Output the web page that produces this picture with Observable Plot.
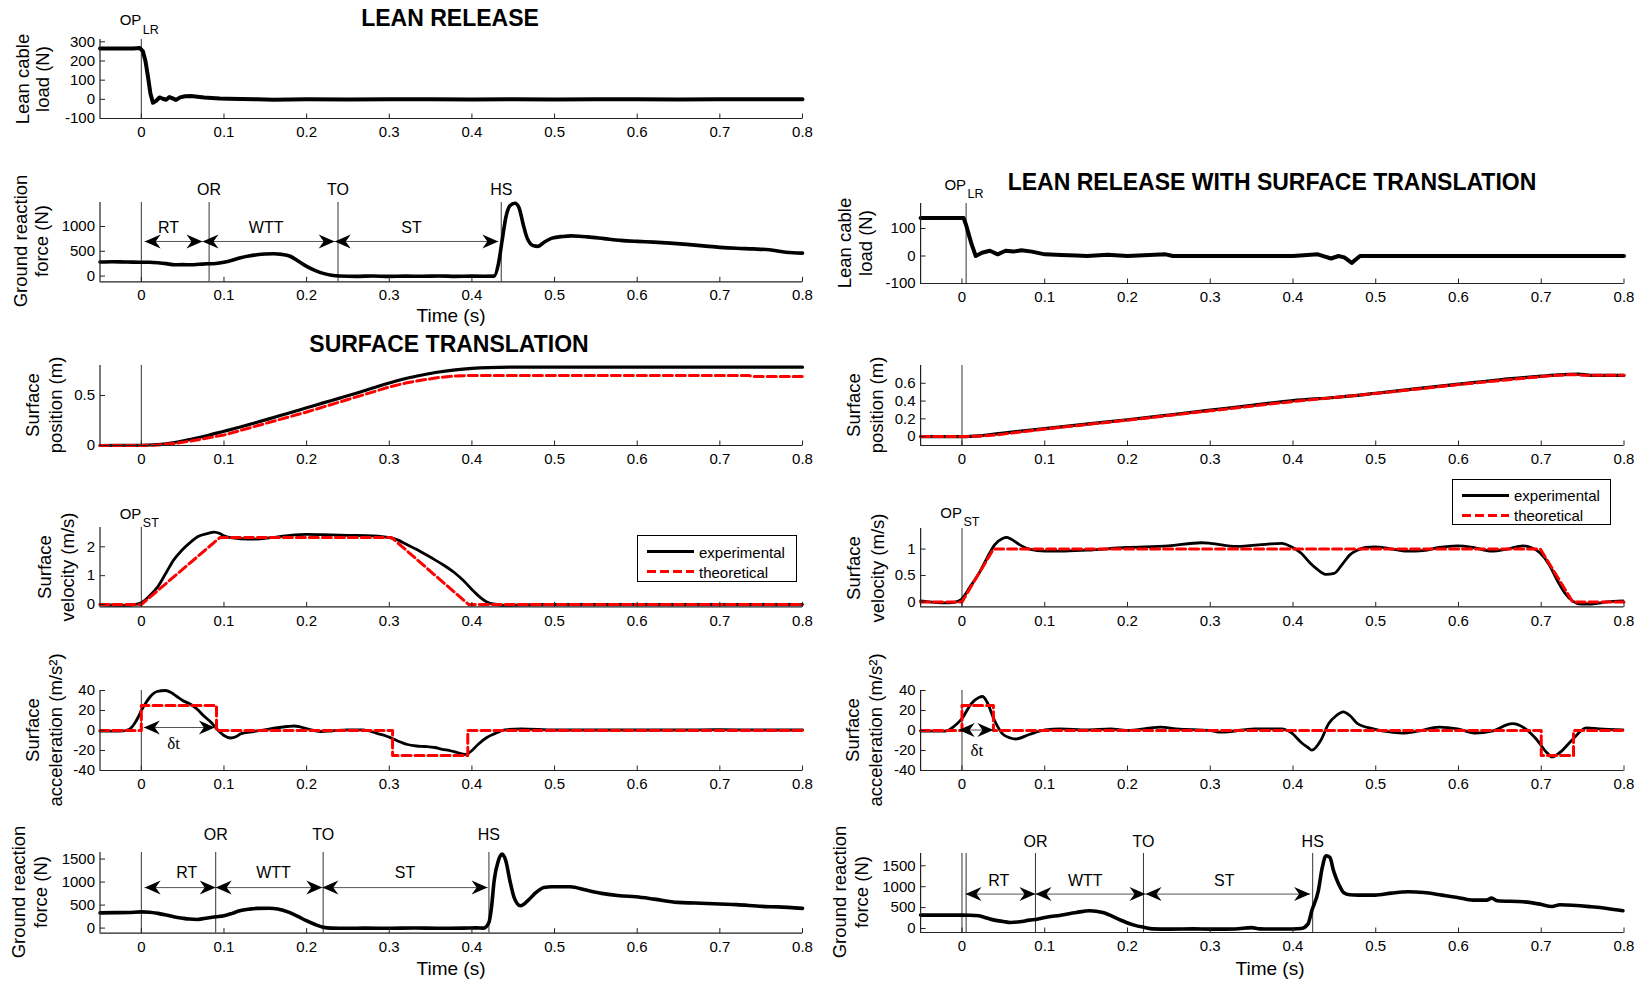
<!DOCTYPE html>
<html>
<head>
<meta charset="utf-8">
<script src="https://cdn.jsdelivr.net/npm/d3@7"></script>
<script src="https://cdn.jsdelivr.net/npm/@observablehq/plot@0.6"></script>
<style>
  body { margin: 0; background: #fff; }
  #fig { position: relative; width: 1648px; height: 984px; overflow: hidden; background: #fff;
         font-family: "Liberation Sans", Arial, sans-serif; color: #000; }
  .abs { position: absolute; white-space: nowrap; line-height: 1; }
  .ttl { font-weight: bold; font-size: 23px; transform: translate(-50%, -50%); }
  .yl { font-size: 18.5px; transform: translate(-50%, -50%) rotate(-90deg); }
  .xl { font-size: 19px; transform: translate(-50%, -50%); }
  .leg { position: absolute; border: 1px solid #000; background: #fff; box-sizing: border-box; }
  .leg svg { position: absolute; left: 0; top: 0; }
  .leg span { position: absolute; left: 61px; font-size: 15px; line-height: 1; transform: translateY(-50%); }
</style>
</head>
<body>
<div id="fig"></div>
<script>
// ---------------- DATA ----------------
const xTicks = [0, 0.1, 0.2, 0.3, 0.4, 0.5, 0.6, 0.7, 0.8];

// LEAN RELEASE: lean cable load (N)  [t, value]
const lrCable = [[-0.05,265],[-0.03,265],[-0.01,265],[-0.002,268],[0.002,250],[0.005,200],[0.008,120],[0.011,30],
  [0.014,-18],[0.018,-8],[0.022,10],[0.026,3],[0.03,-2],[0.034,12],[0.038,5],[0.042,-3],[0.047,10],[0.053,16],
  [0.06,17],[0.068,14],[0.076,10],[0.085,7],[0.095,4],[0.105,3],[0.12,2],[0.14,0],[0.16,-2],[0.2,0],[0.25,-1],
  [0.3,0],[0.35,0],[0.4,-1],[0.45,0],[0.5,-1],[0.55,0],[0.6,0],[0.65,-1],[0.7,0],[0.75,0],[0.8,0]];
// LEAN RELEASE: ground reaction force (N)
const lrGrf = [[-0.05,285],[-0.035,290],[-0.02,285],[-0.01,282],[0,280],[0.01,278],[0.02,268],[0.03,252],[0.04,228],
  [0.05,232],[0.06,228],[0.07,238],[0.08,248],[0.09,255],[0.1,280],[0.11,320],[0.12,370],[0.13,405],[0.14,430],
  [0.15,445],[0.16,450],[0.17,438],[0.18,400],[0.19,300],[0.2,195],[0.21,115],[0.22,55],[0.23,18],[0.24,2],
  [0.26,-5],[0.28,2],[0.3,-6],[0.32,0],[0.34,-4],[0.36,2],[0.38,-5],[0.4,0],[0.415,-2],[0.427,0],[0.432,240],
  [0.4365,711],[0.441,1180],[0.446,1420],[0.452,1470],[0.457,1380],[0.462,1047],[0.467,760],[0.4746,610],
  [0.48,600],[0.487,678],[0.497,765],[0.51,800],[0.52,812],[0.53,805],[0.54,790],[0.56,755],[0.58,720],[0.6,700],
  [0.62,685],[0.64,665],[0.66,640],[0.68,610],[0.7,580],[0.72,560],[0.74,548],[0.76,530],[0.78,480],[0.8,463]];
const lrEventT = [0.082, 0.238, 0.4355];
const lrEventNames = ["OR", "TO", "HS"];
const lrPhaseStart = [0.004, 0.074, 0.234];
const lrPhaseEnd = [0.074, 0.234, 0.432];
const lrPhaseNames = ["RT", "WTT", "ST"];
const lrPhaseLabelT = [0.033, 0.151, 0.327];
const lrArrowY = 698, lrPhaseLabelY = 980;

// SURFACE TRANSLATION: position (m)
const stPosExp = [[-0.05,0],[0,0.002],[0.02,0.01],[0.04,0.03],[0.06,0.062],[0.08,0.1],[0.1,0.143],[0.12,0.185],
  [0.14,0.232],[0.16,0.28],[0.18,0.328],[0.2,0.377],[0.22,0.426],[0.24,0.474],[0.26,0.523],[0.28,0.575],
  [0.3,0.625],[0.32,0.67],[0.34,0.705],[0.36,0.735],[0.38,0.757],[0.4,0.771],[0.42,0.779],[0.45,0.783],[0.8,0.783]];
const stPosTh = [[-0.05,0],[0,0],[0.02,0.005],[0.04,0.02],[0.06,0.045],[0.08,0.075],[0.1,0.105],[0.15,0.22],
  [0.2,0.335],[0.25,0.46],[0.3,0.585],[0.32,0.625],[0.34,0.655],[0.36,0.68],[0.38,0.695],[0.4,0.7],
  [0.735,0.7],[0.74,0.69],[0.8,0.69]];
// SURFACE TRANSLATION: velocity (m/s)
const stVelExp = [[-0.05,0],[-0.035,-0.02],[-0.02,-0.03],[-0.01,-0.01],[0,0.06],[0.01,0.3],[0.02,0.62],[0.03,1.1],
  [0.039,1.54],[0.049,1.88],[0.06,2.17],[0.068,2.35],[0.081,2.47],[0.088,2.51],[0.095,2.46],[0.1,2.38],
  [0.11,2.31],[0.12,2.28],[0.138,2.27],[0.157,2.32],[0.18,2.4],[0.2,2.43],[0.22,2.42],[0.25,2.4],[0.28,2.38],
  [0.3,2.32],[0.31,2.24],[0.32,2.1],[0.335,1.88],[0.351,1.62],[0.365,1.38],[0.379,1.1],[0.39,0.82],[0.4,0.52],
  [0.41,0.25],[0.418,0.09],[0.43,0],[0.44,-0.03],[0.46,-0.01],[0.5,0],[0.8,0]];
const stVelTh = [[-0.05,0],[0,0],[0.095,2.32],[0.303,2.32],[0.396,0],[0.8,0]];
// SURFACE TRANSLATION: acceleration (m/s²)
const stAccExp = [[-0.05,-0.7],[-0.025,-0.7],[-0.015,1],[-0.009,6],[-0.004,13],[0,20],[0.005,27],[0.011,34],
  [0.019,39],[0.029,40],[0.036,38],[0.043,34],[0.05,30],[0.06,26],[0.068,21],[0.075,15],[0.084,8.5],[0.092,1],
  [0.1,-5],[0.108,-7.5],[0.115,-6],[0.12,-3.4],[0.136,-1],[0.156,1.7],[0.177,4],[0.185,4.5],[0.193,3.4],
  [0.209,0],[0.217,-1],[0.23,-0.5],[0.249,0.7],[0.268,0.7],[0.287,-3.4],[0.296,-5.5],[0.305,-8.5],[0.315,-12],
  [0.322,-14],[0.333,-15.5],[0.343,-16],[0.355,-17],[0.363,-18.6],[0.375,-20.5],[0.382,-22],[0.392,-24],
  [0.4,-20],[0.408,-13.5],[0.418,-7],[0.427,-3.4],[0.44,0.7],[0.46,1.7],[0.5,0.5],[0.55,0.5],[0.6,0.5],
  [0.65,0.5],[0.7,0.8],[0.75,0.5],[0.8,0.5]];
const stAccTh = [[-0.05,0],[0,25],[0.091,0],[0.304,-25],[0.395,0],[0.8,0]];
const stDelta = [0.003, 0.089], stDeltaY = 3, stDeltaLabel = [0.039, -13];
// SURFACE TRANSLATION: ground reaction force (N)
const stGrf = [[-0.05,330],[-0.03,335],[-0.015,340],[0,352],[0.01,345],[0.02,320],[0.03,285],[0.039,248],
  [0.05,215],[0.058,196],[0.068,188],[0.08,220],[0.09,245],[0.1,268],[0.11,320],[0.119,375],[0.13,410],
  [0.14,428],[0.155,430],[0.165,415],[0.179,340],[0.19,250],[0.199,165],[0.211,72],[0.22,20],[0.23,0],
  [0.25,-5],[0.27,0],[0.3,-4],[0.33,2],[0.36,-3],[0.39,0],[0.405,5],[0.414,0],[0.4206,123],[0.4237,450],
  [0.4269,1029],[0.432,1464],[0.4365,1609],[0.441,1464],[0.446,1029],[0.451,667],[0.4587,486],[0.4683,609],
  [0.4777,775],[0.4873,884],[0.4969,899],[0.51,900],[0.519,899],[0.538,826],[0.557,754],[0.579,703],
  [0.5985,681],[0.6207,630],[0.649,558],[0.67,545],[0.7,522],[0.72,510],[0.751,471],[0.77,460],[0.8,428]];
const stEventT = [0.090, 0.220, 0.4206];
const stEventNames = ["OR", "TO", "HS"];
const stPhaseStart = [0.004, 0.090, 0.219];
const stPhaseEnd = [0.090, 0.219, 0.419];
const stPhaseNames = ["RT", "WTT", "ST"];
const stPhaseLabelT = [0.055, 0.160, 0.319];
const stArrowY = 880, stPhaseLabelY = 1196;

// LEAN RELEASE WITH SURFACE TRANSLATION
const ltCable = [[-0.05,138],[-0.02,138],[0.002,138],[0.0051,112],[0.0085,75],[0.0115,44],[0.0166,0],[0.0242,12],
  [0.0337,19],[0.0432,6],[0.0527,19],[0.0622,16],[0.0717,21],[0.0845,16],[0.1003,6],[0.12,4],[0.138,2],
  [0.151,0],[0.176,5],[0.2,0],[0.246,6],[0.255,0],[0.3,0],[0.35,0],[0.4,0],[0.43,6],[0.446,-9],[0.455,0],
  [0.462,-5],[0.471,-25],[0.481,0],[0.5,0],[0.6,0],[0.7,0],[0.8,0]];
const ltPosExp = [[-0.05,0],[0,0],[0.01,0.002],[0.02,0.008],[0.03,0.018],[0.05,0.04],[0.1,0.09],[0.15,0.14],
  [0.2,0.19],[0.25,0.243],[0.3,0.297],[0.35,0.352],[0.4,0.405],[0.45,0.44],[0.5,0.488],[0.55,0.54],[0.6,0.59],
  [0.65,0.64],[0.7,0.68],[0.72,0.695],[0.745,0.703],[0.76,0.69],[0.8,0.69]];
const ltPosTh = [[-0.05,0],[0,0],[0.02,0.005],[0.04,0.018],[0.05,0.028],[0.1,0.085],[0.2,0.185],[0.3,0.29],
  [0.4,0.395],[0.5,0.485],[0.6,0.585],[0.7,0.675],[0.72,0.69],[0.74,0.698],[0.75,0.69],[0.8,0.69]];
const ltVelExp = [[-0.05,0.02],[-0.033,-0.01],[-0.017,-0.02],[-0.007,0],[0,0.06],[0.0096,0.28],[0.0204,0.54],
  [0.0299,0.82],[0.0394,1.08],[0.049,1.2],[0.054,1.22],[0.059,1.19],[0.0699,1.08],[0.0813,1.0],[0.1003,0.96],
  [0.1193,0.96],[0.151,0.98],[0.1986,1.03],[0.2494,1.06],[0.2894,1.12],[0.3002,1.11],[0.332,1.05],[0.3669,1.09],
  [0.386,1.11],[0.3987,1.04],[0.41,0.92],[0.421,0.73],[0.4306,0.6],[0.44,0.52],[0.4497,0.54],[0.459,0.7],
  [0.4687,0.89],[0.478,0.98],[0.4877,1.03],[0.499,1.04],[0.5162,1.01],[0.5384,0.96],[0.5575,0.97],[0.5765,1.03],
  [0.5987,1.06],[0.6177,1.03],[0.64,0.96],[0.659,1.0],[0.678,1.06],[0.6876,1.03],[0.6984,0.93],[0.7098,0.7],
  [0.7193,0.41],[0.7289,0.16],[0.7384,0.01],[0.7479,-0.04],[0.7606,-0.04],[0.7796,0],[0.7987,0.02]];
const ltVelTh = [[-0.05,0],[0,0],[0.038,1],[0.699,1],[0.738,0],[0.8,0]];
const ltAccExp = [[-0.05,-0.7],[-0.0203,-0.7],[-0.0107,3.4],[0,12],[0.0115,27],[0.0204,33],[0.0249,34],
  [0.0299,29],[0.0394,10],[0.049,-3.4],[0.0585,-7.5],[0.0648,-8.5],[0.0813,-4],[0.1003,0.7],[0.1193,1.7],
  [0.151,0.7],[0.1796,1.7],[0.1986,0],[0.24,3.4],[0.259,1.7],[0.3,0],[0.313,-1.7],[0.354,1.7],[0.386,1.7],
  [0.3987,-2.7],[0.41,-12],[0.418,-17],[0.4227,-19.7],[0.4335,-10],[0.443,6.8],[0.4525,15],[0.4607,18.6],
  [0.4687,15],[0.478,6.8],[0.497,1.7],[0.519,-1.7],[0.532,-2.7],[0.551,-0.7],[0.5765,3.4],[0.5987,1.7],
  [0.621,-2.7],[0.64,-0.7],[0.665,6.8],[0.681,1.7],[0.6939,-8.5],[0.7066,-22],[0.713,-26.4],[0.7225,-22],
  [0.7384,-8.5],[0.7543,2.7],[0.77,1.7],[0.7987,0.7]];
const ltAccTh = [[-0.05,0],[0,25],[0.038,0],[0.7,-25],[0.739,0],[0.8,0]];
const ltDelta = [-0.004, 0.038], ltDeltaY = 0.5, ltDeltaLabel = [0.018, -20];
const ltGrf = [[-0.05,320],[0,320],[0.01,318],[0.0204,303],[0.03,250],[0.0394,200],[0.05,168],[0.0585,144],
  [0.0699,160],[0.0813,200],[0.0908,223],[0.1003,263],[0.1193,319],[0.1384,383],[0.1542,423],[0.1701,383],
  [0.1891,223],[0.1986,144],[0.2081,80],[0.2208,24],[0.23,-10],[0.25,-16],[0.28,-10],[0.3,-16],[0.33,-12],
  [0.35,20],[0.36,-10],[0.39,-14],[0.41,0],[0.418,104],[0.4227,423],[0.4306,902],[0.4354,1460],[0.44,1740],
  [0.4446,1700],[0.449,1380],[0.4552,1061],[0.461,862],[0.4687,806],[0.479,798],[0.499,798],[0.519,846],
  [0.539,878],[0.558,862],[0.58,798],[0.5987,742],[0.6177,678],[0.634,678],[0.64,726],[0.647,662],[0.678,638],
  [0.6984,583],[0.7129,527],[0.7225,567],[0.7606,519],[0.7796,479],[0.7987,423]];
const ltOnsetT = [0, 0.005];
const ltEventT = [0.0888, 0.2193, 0.4238];
const ltEventNames = ["OR", "TO", "HS"];
const ltPhaseStart = [0.0042, 0.0888, 0.2218];
const ltPhaseEnd = [0.0888, 0.2218, 0.4207];
const ltPhaseNames = ["RT", "WTT", "ST"];
const ltPhaseLabelT = [0.0445, 0.149, 0.317];
const ltArrowY = 823, ltPhaseLabelY = 1141;

// ---------------- DRAWING ----------------
const fig = document.getElementById("fig");
const xDomain = [-0.05, 0.8];
const fmt = d => String(d);
const AX = "#222";
const RED = "#ff0000";
const COLS = [{left: 0, width: 820, ml: 99.5, mr: 18}, {left: 820, width: 828, ml: 100.1, mr: 24.5}];

const tickUp = {draw(c) { c.moveTo(0, 0); c.lineTo(0, -5); }};
const tickRight = {draw(c) { c.moveTo(0, 0); c.lineTo(5, 0); }};
const headL = {draw(c) { c.moveTo(0, 0); c.lineTo(16, -7); c.lineTo(11, 0); c.lineTo(16, 7); c.closePath(); }};
const headR = {draw(c) { c.moveTo(0, 0); c.lineTo(-16, -7); c.lineTo(-11, 0); c.lineTo(-16, 7); c.closePath(); }};

function panel({col, top, bottom, yDomain, yTicks, marks}) {
  const c = COLS[col];
  const mt = 40, mb = 30;
  const svg = Plot.plot({
    width: c.width, height: bottom - top + mt + mb,
    marginLeft: c.ml, marginRight: c.mr, marginTop: mt, marginBottom: mb,
    x: {domain: xDomain}, y: {domain: yDomain},
    style: {background: "transparent", overflow: "visible", fontFamily: "'Liberation Sans', Arial, sans-serif",
            fontSize: "15px", color: "#000"},
    marks: [
      ...marks,
      Plot.ruleX([xDomain[0]], {stroke: AX, strokeWidth: 1.2}),
      Plot.ruleY([yDomain[0]], {stroke: AX, strokeWidth: 1.2}),
      Plot.dot(xTicks, {x: d => d, frameAnchor: "bottom", symbol: tickUp, stroke: AX, fill: "none", strokeWidth: 1}),
      Plot.dot(yTicks, {y: d => d, frameAnchor: "left", symbol: tickRight, stroke: AX, fill: "none", strokeWidth: 1}),
      Plot.axisX({ticks: xTicks, tickFormat: fmt, tickSize: 0, tickPadding: 8, label: null}),
      Plot.axisY({ticks: yTicks, tickFormat: fmt, tickSize: 0, tickPadding: 5, label: null})
    ]
  });
  svg.style.position = "absolute";
  svg.style.left = c.left + "px";
  svg.style.top = (top - mt) + "px";
  fig.appendChild(svg);
}

const line = (pairs, o) => Plot.line(pairs, {x: d => d[0], y: d => d[1], ...o});
const exp = (pairs, w = 3, curve = "monotone-x") => line(pairs, {stroke: "#000", strokeWidth: w, curve});
const theo = (pairs, curve = "linear") => line(pairs, {stroke: RED, strokeWidth: 3, strokeDasharray: "9,4", curve});
const vrules = ts => Plot.ruleX(ts, {x: d => d, stroke: "#333", strokeWidth: 1});
function arrows(starts, ends, y) {
  const data = starts.map((s, i) => ({s, e: ends[i], y}));
  return [
    Plot.link(data, {x1: "s", x2: "e", y1: "y", y2: "y", stroke: "#555", strokeWidth: 1}),
    Plot.dot(data, {x: "s", y: "y", symbol: headL, fill: "#000", stroke: "none"}),
    Plot.dot(data, {x: "e", y: "y", symbol: headR, fill: "#000", stroke: "none"})
  ];
}
function eventLabels(ts, names, dy) {
  return Plot.text(ts, {x: d => d, text: (d, i) => names[i], frameAnchor: "top", lineAnchor: "middle", dy, fontSize: 16});
}
function phaseLabels(ts, names, y) {
  return Plot.text(ts, {x: d => d, y: () => y, text: (d, i) => names[i], fontSize: 16});
}
function opLabel(t, sub, dyMain, dySub) {
  return [
    Plot.text([t], {x: d => d, text: () => "OP", frameAnchor: "top", lineAnchor: "middle", textAnchor: "end", dx: 0, dy: dyMain, fontSize: 15}),
    Plot.text([t], {x: d => d, text: () => sub, frameAnchor: "top", lineAnchor: "middle", textAnchor: "start", dx: 1.5, dy: dySub, fontSize: 12.5})
  ];
}
function delta(tt, y, lab) {
  return [
    ...arrows([tt[0]], [tt[1]], y),
    Plot.text([lab], {x: d => d[0], y: d => d[1], text: () => "δt", fontFamily: "'Liberation Serif', serif", fontSize: 17})
  ];
}

// ---- Left column ----
panel({col: 0, top: 39.3, bottom: 118.3, yDomain: [-100, 312], yTicks: [-100, 0, 100, 200, 300],
  marks: [vrules([0]), exp(lrCable, 4, "linear"), ...opLabel(0, "LR", -19, -10)]});
panel({col: 0, top: 201.7, bottom: 281, yDomain: [-115, 1484], yTicks: [0, 500, 1000],
  marks: [vrules([0, ...lrEventT]), ...arrows(lrPhaseStart, lrPhaseEnd, lrArrowY),
          phaseLabels(lrPhaseLabelT, lrPhaseNames, lrPhaseLabelY), eventLabels(lrEventT, lrEventNames, -12.5),
          exp(lrGrf, 3.6)]});
panel({col: 0, top: 365, bottom: 445, yDomain: [0, 0.8], yTicks: [0, 0.5],
  marks: [vrules([0]), exp(stPosExp, 3.2), theo(stPosTh)]});
panel({col: 0, top: 527.3, bottom: 606.7, yDomain: [-0.083, 2.67], yTicks: [0, 1, 2],
  marks: [vrules([0]), exp(stVelExp, 2.8), theo(stVelTh), ...opLabel(0, "ST", -13, -4)]});
panel({col: 0, top: 690, bottom: 770, yDomain: [-40, 40], yTicks: [-40, -20, 0, 20, 40],
  marks: [vrules([0]), exp(stAccExp, 2.8), theo(stAccTh, "step-after"), ...delta(stDelta, stDeltaY, stDeltaLabel)]});
panel({col: 0, top: 851.7, bottom: 932.3, yDomain: [-109, 1643], yTicks: [0, 500, 1000, 1500],
  marks: [vrules([0, ...stEventT]), ...arrows(stPhaseStart, stPhaseEnd, stArrowY),
          phaseLabels(stPhaseLabelT, stPhaseNames, stPhaseLabelY), eventLabels(stEventT, stEventNames, -18),
          exp(stGrf, 3.6)]});

// ---- Right column ----
panel({col: 1, top: 203.3, bottom: 283.3, yDomain: [-100, 191], yTicks: [-100, 0, 100],
  marks: [vrules([0.005]), exp(ltCable, 4, "linear"), ...opLabel(0.005, "LR", -18, -10)]});
panel({col: 1, top: 365, bottom: 445, yDomain: [-0.1, 0.8], yTicks: [0, 0.2, 0.4, 0.6],
  marks: [vrules([0]), exp(ltPosExp, 3.2), theo(ltPosTh)]});
panel({col: 1, top: 528.3, bottom: 606.7, yDomain: [-0.095, 1.39], yTicks: [0, 0.5, 1],
  marks: [vrules([0]), exp(ltVelExp, 2.8), theo(ltVelTh), ...opLabel(0, "ST", -15, -6.5)]});
panel({col: 1, top: 690, bottom: 770, yDomain: [-40, 40], yTicks: [-40, -20, 0, 20, 40],
  marks: [vrules([0]), exp(ltAccExp, 2.8), theo(ltAccTh, "step-after"), ...delta(ltDelta, ltDeltaY, ltDeltaLabel)]});
panel({col: 1, top: 852.7, bottom: 931.7, yDomain: [-96, 1794], yTicks: [0, 500, 1000, 1500],
  marks: [vrules([...ltOnsetT, ...ltEventT]), ...arrows(ltPhaseStart, ltPhaseEnd, ltArrowY),
          phaseLabels(ltPhaseLabelT, ltPhaseNames, ltPhaseLabelY), eventLabels(ltEventT, ltEventNames, -11.5),
          exp(ltGrf, 3.6)]});

// ---------------- HTML TEXT ----------------
function addText(cls, text, x, y) {
  const d = document.createElement("div");
  d.className = "abs " + cls;
  d.textContent = text;
  d.style.left = x + "px";
  d.style.top = y + "px";
  fig.appendChild(d);
}
addText("ttl", "LEAN RELEASE", 450, 18);
addText("ttl", "SURFACE TRANSLATION", 449, 344);
addText("ttl", "LEAN RELEASE WITH SURFACE TRANSLATION", 1272, 182);
addText("xl", "Time (s)", 451, 315);
addText("xl", "Time (s)", 451, 968);
addText("xl", "Time (s)", 1270, 968);

const yLabels = [
  ["Lean cable", "load (N)", 22.5, 43, 78.8],
  ["Ground reaction", "force (N)", 20.5, 41.7, 241.4],
  ["Surface", "position (m)", 32.5, 56.4, 405],
  ["Surface", "velocity (m/s)", 45, 67.7, 567],
  ["Surface", "acceleration (m/s²)", 32.5, 55.6, 730],
  ["Ground reaction", "force (N)", 19, 41, 892],
  ["Lean cable", "load (N)", 845, 866, 243.3],
  ["Surface", "position (m)", 854, 877, 405],
  ["Surface", "velocity (m/s)", 854, 878, 567.5],
  ["Surface", "acceleration (m/s²)", 853, 876, 730],
  ["Ground reaction", "force (N)", 840, 861.5, 892]
];
for (const [a, b, xa, xb, cy] of yLabels) {
  addText("yl", a, xa, cy);
  addText("yl", b, xb, cy);
}

function legend(x, y, w, h) {
  const d = document.createElement("div");
  d.className = "leg";
  d.style.left = x + "px"; d.style.top = y + "px";
  d.style.width = w + "px"; d.style.height = h + "px";
  d.innerHTML = `<svg width="${w}" height="${h}">
      <line x1="9" x2="56" y1="15.5" y2="15.5" stroke="#000" stroke-width="3"/>
      <line x1="9" x2="56" y1="35.5" y2="35.5" stroke="${RED}" stroke-width="3" stroke-dasharray="9,4"/>
    </svg><span style="top:15.5px">experimental</span><span style="top:35.5px">theoretical</span>`;
  fig.appendChild(d);
}
legend(637, 535, 160, 47);
legend(1452, 478.5, 159, 46);
</script>
</body>
</html>
